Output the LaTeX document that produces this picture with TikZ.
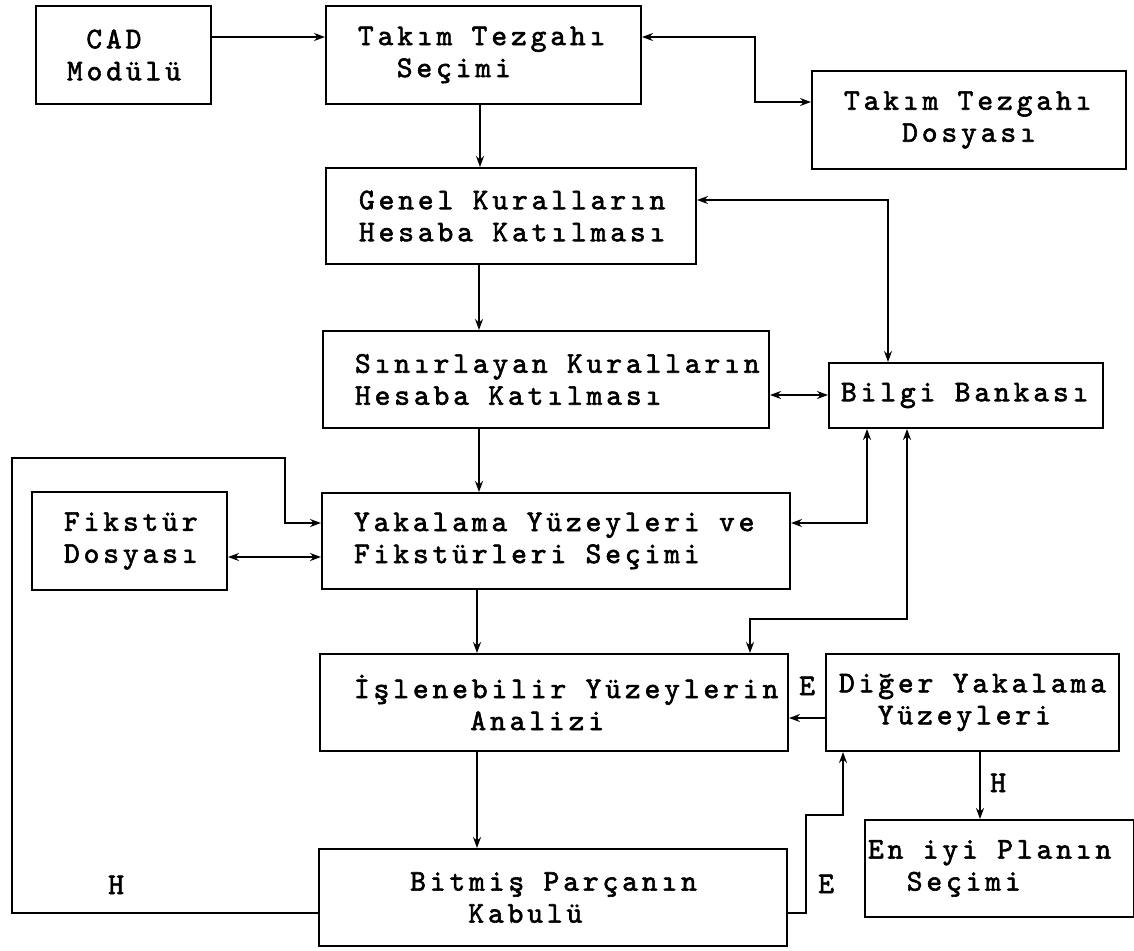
\documentclass[tikz,border=0pt]{standalone}
\usepackage{fontspec}
\usetikzlibrary{arrows.meta}
\newfontfamily\cour[Extension=.otf,LetterSpace=13,FakeBold=2]{lmmono10-regular}
\newlength\chw
\setlength\chw{19.4pt}
\newcommand\tsp[1]{\hspace*{#1\chw}}
\newcommand\ind[1]{\hspace*{#1pt}}
\newcommand\boxfont{\cour\fontsize{30}{32}\selectfont}
\tikzset{
  box/.style={draw, line width=2pt, anchor=north west, inner sep=0pt, align=left,
    font=\boxfont, execute at begin node={\spaceskip=\chw\xspaceskip=\chw\relax}},
  lbl/.style={anchor=base west, inner sep=0pt, font=\boxfont},
  conn/.style={line width=1.8pt, -{Stealth[length=11pt,width=8pt]}},
  bconn/.style={line width=1.8pt, {Stealth[length=11pt,width=8pt]}-{Stealth[length=11pt,width=8pt]}}
}
\begin{document}
\begin{tikzpicture}[x=1pt,y=-1pt]
\useasboundingbox (0,0) rectangle (1134,950);
% boxes
\node[box, text width=175pt, minimum height=98pt] (cad) at (35,5)
  {\ind{31}\tsp{1}CAD\\\ind{31}Modülü};
\node[box, text width=315pt, minimum height=98pt] (tts) at (325,5)
  {\ind{32}Takım Tezgahı\\\ind{32}\tsp{2}Seçimi};
\node[box, text width=314pt, minimum height=98pt] (ttd) at (811,70)
  {\ind{32}Takım Tezgahı\\\ind{32}\tsp{3}Dosyası};
\node[box, text width=370pt, minimum height=96pt] (gen) at (325,167)
  {\ind{33}Genel Kuralların\\\ind{33}Hesaba Katılması};
\node[box, text width=446pt, minimum height=97pt] (sin) at (322,330)
  {\ind{32}Sınırlayan Kuralların\\\ind{32}Hesaba Katılması};
\node[box, text width=274pt, minimum height=65pt] (bil) at (828,362)
  {\ind{12}Bilgi Bankası};
\node[box, text width=195pt, minimum height=98pt] (fik) at (31,491)
  {\ind{32}Fikstür\\\ind{32}Dosyası};
\node[box, text width=468pt, minimum height=96pt] (yak) at (321,492)
  {\ind{32}Yakalama Yüzeyleri ve\\\ind{32}Fikstürleri Seçimi};
\node[box, text width=468pt, minimum height=97pt] (isl) at (319,653)
  {\ind{34}İşlenebilir Yüzeylerin\\\ind{34}\tsp{6}Analizi};
\node[box, text width=293pt, minimum height=97pt] (dig) at (825,653)
  {\ind{13}Diğer Yakalama\\\ind{13}\tsp{2}Yüzeyleri};
\node[box, text width=468pt, minimum height=97pt] (bit) at (318,848)
  {\ind{33}\tsp{3}Bitmiş Parçanın\\\ind{33}\tsp{6}Kabulü};
\node[box, text width=269pt, minimum height=97pt] (eni) at (864,819)
  {\ind{3}En iyi Planın\\\ind{3}\tsp{2}Seçimi};
% labels
\node[lbl] (h1) at (108,894) {H};
\node[lbl] (e1) at (799,695) {E};
\node[lbl] (e2) at (818,893) {E};
\node[lbl] (h2) at (990,792) {H};
% connectors
\draw[conn] (cad.east |- 0,37) -- (tts.west |- 0,37);
\draw[bconn] (tts.east |- 0,37) -- (755,37) -- (755,102) -- (ttd.west |- 0,102);
\draw[conn] (480,0 |- tts.south) -- (480,0 |- gen.north);
\draw[bconn] (gen.east |- 0,200) -- (888,200) -- (888,0 |- bil.north);
\draw[conn] (479,0 |- gen.south) -- (479,0 |- sin.north);
\draw[bconn] (sin.east |- 0,395) -- (bil.west |- 0,395);
\draw[conn] (479,0 |- sin.south) -- (479,0 |- yak.north);
\draw[bconn] (867,0 |- bil.south) -- (867,523) -- (yak.east |- 0,523);
\draw[bconn] (907,0 |- bil.south) -- (907,619) -- (750,619) -- (750,0 |- isl.north);
\draw[bconn] (fik.east |- 0,557) -- (yak.west |- 0,557);
\draw[conn] (bit.west |- 0,913) -- (12,913) -- (12,458) -- (285,458) -- (285,523) -- (yak.west |- 0,523);
\draw[conn] (477,0 |- yak.south) -- (477,0 |- isl.north);
\draw[conn] (dig.west |- 0,718) -- (isl.east |- 0,718);
\draw[conn] (477,0 |- isl.south) -- (477,0 |- bit.north);
\draw[conn] (bit.east |- 0,913) -- (806,913) -- (806,815) -- (843,815) -- (843,0 |- dig.south);
\draw[conn] (980,0 |- dig.south) -- (980,0 |- eni.north);
\end{tikzpicture}
\end{document}
